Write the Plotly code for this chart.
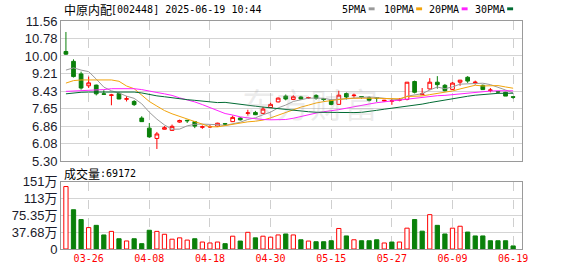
import plotly.graph_objects as go

# ---------------- data ----------------
dates = ["03-21", "03-24", "03-25", "03-26", "03-27", "03-28", "03-31",
         "04-01", "04-02", "04-03", "04-07", "04-08", "04-09", "04-10", "04-11",
         "04-14", "04-15", "04-16", "04-17", "04-18", "04-21", "04-22", "04-23",
         "04-24", "04-25", "04-28", "04-29", "04-30",
         "05-06", "05-07", "05-08", "05-09", "05-12", "05-13", "05-14", "05-15",
         "05-16", "05-19", "05-20", "05-21", "05-22", "05-23", "05-26", "05-27",
         "05-28", "05-29", "05-30",
         "06-03", "06-04", "06-05", "06-06", "06-09", "06-10", "06-11", "06-12",
         "06-13", "06-16", "06-17", "06-18", "06-19"]

open_ = [10.20, 9.76, 9.20, 8.67, 8.70, 8.31, 8.24, 8.32, 8.07, 7.97,
         7.23, 6.78, 6.32, 6.73, 6.68, 7.05, 7.13, 7.07, 6.82, 6.83,
         6.87, 6.98, 7.07, 7.23, 7.44, 7.48, 7.44, 7.70, 7.95, 8.21,
         8.06, 8.17, 8.13, 8.24, 8.10, 8.02, 7.84, 8.32, 8.23, 8.19,
         8.14, 8.14, 7.99, 7.98, 8.02, 8.06, 8.86, 8.27, 8.53, 8.83,
         8.69, 8.51, 8.83, 9.05, 8.80, 8.69, 8.46, 8.41, 8.38, 8.18]
high = [11.07, 9.85, 9.30, 9.08, 8.72, 8.47, 8.31, 8.38, 8.21, 8.03,
        7.31, 7.01, 6.61, 6.87, 6.94, 7.16, 7.14, 7.10, 6.90, 6.92,
        7.02, 7.00, 7.34, 7.27, 7.60, 7.55, 7.73, 7.92, 8.15, 8.28,
        8.25, 8.22, 8.18, 8.29, 8.12, 8.05, 8.45, 8.37, 8.32, 8.20,
        8.19, 8.15, 8.04, 8.10, 8.12, 8.83, 8.90, 8.57, 9.01, 9.10,
        8.75, 8.83, 8.93, 9.10, 8.90, 8.72, 8.57, 8.41, 8.40, 8.18]
low = [10.05, 9.04, 8.50, 8.57, 8.24, 8.28, 7.80, 8.07, 7.97, 7.77,
       7.06, 6.35, 5.85, 6.72, 6.67, 7.02, 7.01, 6.78, 6.75, 6.78,
       6.84, 6.90, 7.06, 7.12, 7.34, 7.36, 7.41, 7.68, 7.93, 8.02,
       8.03, 8.05, 8.10, 8.05, 7.98, 7.80, 7.84, 8.06, 8.13, 8.09,
       7.97, 7.95, 7.96, 7.82, 7.98, 8.02, 8.33, 8.26, 8.50, 8.54,
       8.42, 8.48, 8.67, 8.80, 8.72, 8.50, 8.38, 8.33, 8.21, 8.09]
close = [10.08, 9.08, 8.57, 8.80, 8.31, 8.29, 8.26, 8.08, 8.09, 7.83,
         7.07, 6.39, 6.52, 6.80, 6.86, 7.12, 7.11, 6.87, 6.84, 6.85,
         7.00, 6.96, 7.26, 7.15, 7.46, 7.38, 7.63, 7.84, 8.12, 8.08,
         8.18, 8.08, 8.14, 8.11, 8.06, 7.84, 8.25, 8.17, 8.25, 8.17,
         8.02, 8.12, 8.02, 8.00, 8.06, 8.83, 8.38, 8.31, 8.83, 8.72,
         8.45, 8.79, 8.92, 8.88, 8.83, 8.50, 8.48, 8.39, 8.21, 8.16]

# volume in 万 (10k) shares
volume = [140, 88, 66, 48, 53, 31.5, 39.5, 23, 18, 23,
          12, 42, 39.5, 33, 22, 25, 20, 23, 15.6, 13.5,
          15.6, 12, 28.7, 17.8, 37.4, 25, 28.7, 26.5, 31.5, 33.7,
          31.5, 20.7, 17.8, 16.3, 16.3, 18.5, 46, 29.3, 20.7, 18.5,
          18.5, 20.7, 13.5, 15.6, 15.6, 46.7, 66, 40, 77, 53,
          33.7, 46.7, 51, 38, 29.3, 29.3, 18.5, 18.5, 18.5, 6.92]
# 1 = red (up) volume bar, 0 = green
vol_up = [1, 0, 0, 1, 0, 0, 1, 0, 1, 0,
          0, 0, 1, 1, 1, 1, 1, 0, 1, 1,
          1, 0, 1, 0, 1, 0, 1, 1, 1, 0,
          1, 0, 1, 0, 0, 0, 1, 0, 1, 0,
          0, 0, 1, 0, 1, 1, 0, 0, 1, 0,
          0, 1, 1, 0, 0, 0, 0, 0, 0, 0]

# moving-average values before enough in-window history exists
ma5_head = [9.37, 9.47, 9.37, 9.30]
ma10_head = [8.79, 8.90, 8.93, 8.93, 8.93, 8.93, 8.93, 8.87, 8.66]
ma20_head = [8.42, 8.43, 8.45, 8.46, 8.47, 8.50, 8.54, 8.54, 8.54, 8.54,
             8.50, 8.42, 8.37, 8.31, 8.24, 8.13, 8.05, 7.95, 7.83]
ma30_head = [8.31, 8.36, 8.38, 8.39, 8.39, 8.39, 8.39, 8.39, 8.39, 8.39,
             8.35, 8.27, 8.22, 8.18, 8.13, 8.09, 8.05, 8.02, 7.99, 7.97,
             7.92, 7.93, 7.88, 7.84, 7.80, 7.76, 7.72, 7.68, 7.64]

price_ticks = [5.30, 6.08, 6.86, 7.65, 8.43, 9.21, 10.00, 10.78, 11.56]
vol_ticks = [0, 37.68, 75.35, 113.03, 150.7]
vol_ticktext = ["0", "37.68万", "75.35万", "113万", "151万"]
date_ticks = ["03-26", "04-08", "04-18", "04-30", "05-15", "05-27", "06-09", "06-19"]

title_name = "中原内配"
title_rest = "[002448] 2025-06-19 10:44"
vol_label = "成交量"
vol_last = ":69172"
ma_names = ["5PMA", "10PMA", "20PMA", "30PMA"]


# ---------------- helpers ----------------
def moving_average(values, n, head):
    out = []
    for i in range(len(values)):
        if i < n - 1:
            out.append(head[i])
        else:
            out.append(round(sum(values[i - n + 1:i + 1]) / n, 3))
    return out


ma_lines = [moving_average(close, 5, ma5_head),
            moving_average(close, 10, ma10_head),
            moving_average(close, 20, ma20_head),
            moving_average(close, 30, ma30_head)]
ma_colors = ["#9a9a9a", "#f2a40c", "#ff22ff", "#006b33"]

RED = "#ff0000"
GREEN = "#0a800a"

# pixel layout of the 578x276 canvas
W, H = 578, 276
ML, MR, MT, MB = 56, 56, 21, 21
PW, PH = W - ML - MR, H - MT - MB


def px(x):
    return (x - ML) / PW


def py(y):
    return (H - MB - y) / PH


fig = go.Figure()

fig.add_trace(go.Candlestick(
    x=dates, open=open_, high=high, low=low, close=close,
    increasing=dict(line=dict(color=RED, width=1), fillcolor="#ffffff"),
    decreasing=dict(line=dict(color=GREEN, width=1), fillcolor=GREEN),
    whiskerwidth=0, xaxis="x", yaxis="y", hoverinfo="skip", showlegend=False))

for vals, col, name in zip(ma_lines, ma_colors, ma_names):
    fig.add_trace(go.Scatter(x=dates, y=vals, mode="lines",
                             line=dict(color=col, width=1), name=name,
                             xaxis="x", yaxis="y", hoverinfo="skip",
                             showlegend=False))

fig.add_trace(go.Bar(
    x=dates, y=volume, width=0.56,
    marker=dict(color=["#ffffff" if u else GREEN for u in vol_up],
                line=dict(color=[RED if u else GREEN for u in vol_up], width=1)),
    xaxis="x2", yaxis="y2", hoverinfo="skip", showlegend=False))

xrange = [-0.65, len(dates) - 1 + 1.17]
axis_common = dict(type="category", categoryorder="array", categoryarray=dates,
                   range=xrange, tickvals=date_ticks, showgrid=True,
                   gridcolor="#cfcfcf", griddash="dash", gridwidth=1,
                   showline=True, mirror=True, linecolor="#9a9a9a", linewidth=1,
                   zeroline=False, ticks="", fixedrange=True)

main_bottom = py(165)
vol_top = py(186)

fig.update_layout(
    width=W, height=H,
    margin=dict(l=ML, r=MR, t=MT, b=MB, pad=0),
    paper_bgcolor="#ffffff", plot_bgcolor="#ffffff",
    showlegend=False,
    xaxis=dict(axis_common, domain=[0, 1], anchor="y", showticklabels=False,
               rangeslider=dict(visible=False)),
    xaxis2=dict(axis_common, domain=[0, 1], anchor="y2", showticklabels=True,
                tickfont=dict(family="DejaVu Sans Mono", size=10, color=RED)),
    yaxis=dict(domain=[main_bottom, 1], range=[price_ticks[0], price_ticks[-1]],
               tickvals=price_ticks, ticktext=["%.2f" % v for v in price_ticks],
               showgrid=True, gridcolor="#d4d4d4", gridwidth=1,
               showline=True, mirror=True, linecolor="#9a9a9a", linewidth=1,
               zeroline=False, ticks="", fixedrange=True,
               tickfont=dict(family="Liberation Sans", size=13, color="#1a1a2a")),
    yaxis2=dict(domain=[0, vol_top], range=[0, vol_ticks[-1]],
                tickvals=vol_ticks, ticktext=vol_ticktext,
                showgrid=True, gridcolor="#d4d4d4", gridwidth=1,
                showline=True, mirror=True, linecolor="#9a9a9a", linewidth=1,
                zeroline=False, ticks="", fixedrange=True,
                tickfont=dict(family="Liberation Sans, Noto Sans CJK SC", size=13,
                              color="#1a1a2a")),
)

annos = []
# watermark
annos.append(dict(x=px(308), y=py(78), xref="paper", yref="paper",
                  text="东方财富", showarrow=False,
                  font=dict(family="Noto Sans CJK SC", size=34,
                            color="rgba(170,170,170,0.22)")))
# title
annos.append(dict(x=px(57), y=py(9), xref="paper", yref="paper", text=title_name,
                  showarrow=False, xanchor="left", yanchor="middle",
                  font=dict(family="Noto Sans CJK SC", size=12, color="#000")))
annos.append(dict(x=px(105), y=py(9), xref="paper", yref="paper", text=title_rest,
                  showarrow=False, xanchor="left", yanchor="middle",
                  font=dict(family="DejaVu Sans Mono", size=10, color="#000")))
# volume caption
annos.append(dict(x=px(57), y=py(177), xref="paper", yref="paper", text=vol_label,
                  showarrow=False, xanchor="left", yanchor="middle",
                  font=dict(family="Noto Sans CJK SC", size=12, color="#000")))
annos.append(dict(x=px(93), y=py(177), xref="paper", yref="paper", text=vol_last,
                  showarrow=False, xanchor="left", yanchor="middle",
                  font=dict(family="DejaVu Sans Mono", size=10, color="#000")))

shapes = []
legend_x = [338, 380, 426, 472]
for name, col, lx in zip(ma_names, ma_colors, legend_x):
    annos.append(dict(x=px(lx), y=py(9), xref="paper", yref="paper", text=name,
                      showarrow=False, xanchor="left", yanchor="middle",
                      font=dict(family="DejaVu Sans Mono", size=10, color="#000")))
    sx = lx + len(name) * 6 + 5
    shapes.append(dict(type="rect", xref="paper", yref="paper",
                       x0=px(sx), x1=px(sx + 6), y0=py(10), y1=py(7),
                       fillcolor=col, line=dict(width=0)))

fig.update_layout(annotations=annos, shapes=shapes)

fig.write_html("out.html")
